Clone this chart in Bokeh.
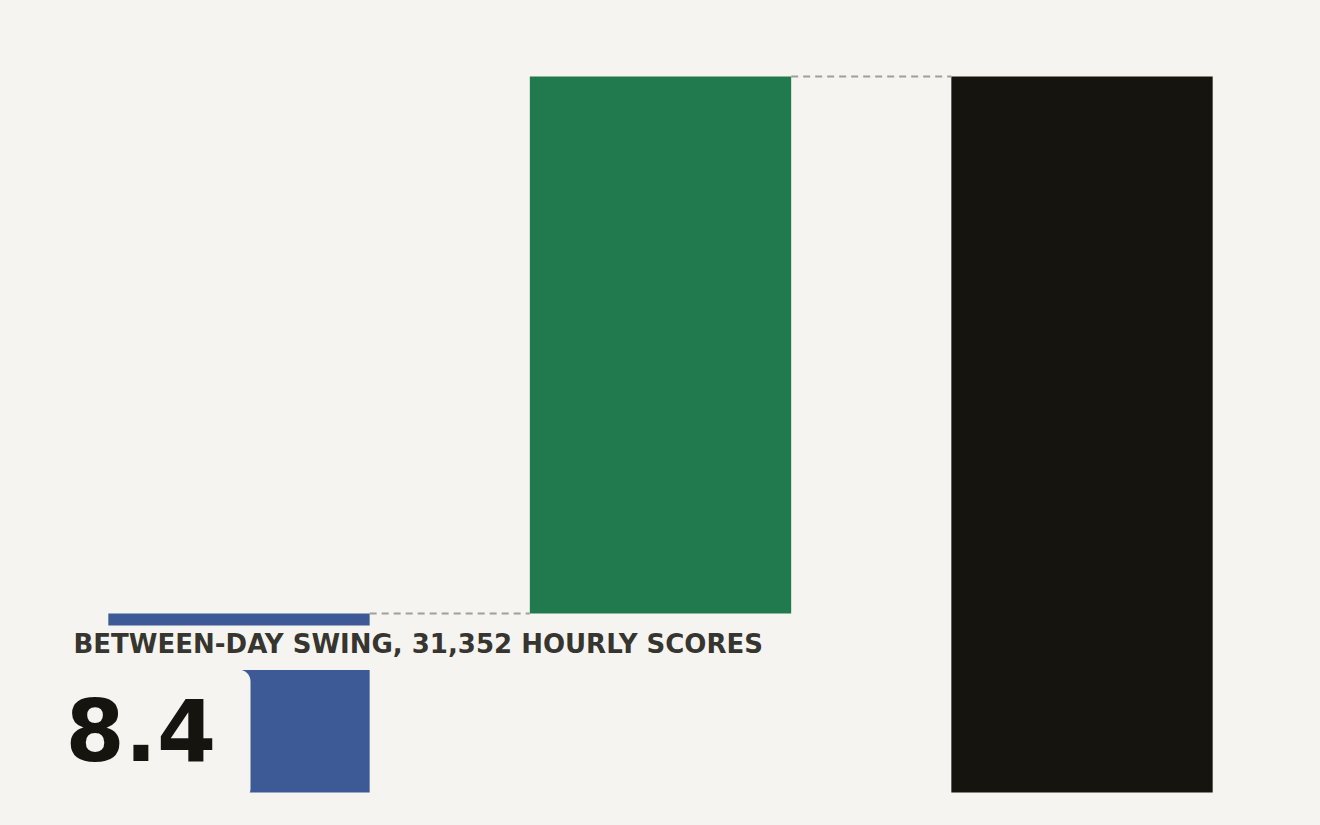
from bokeh.plotting import figure
from bokeh.models import BoxAnnotation, Label, Range1d, ColumnDataSource
from bokeh.embed import file_html
from bokeh.resources import INLINE

# ---- data ----
categories = ["Within-day", "Between-day swing", "Total"]
bar_bottom = [0.0, 8.4, 0.0]
bar_top = [8.4, 33.6, 33.6]
bar_colors = ["#3d5a96", "#217a4d", "#15140f"]
headline_value = "8.4"
subtitle_text = "BETWEEN-DAY SWING, 31,352 HOURLY SCORES"

BG = "#f5f4f0"
W, H = 1320, 825
BAR_W = 0.62

# pixel -> data mapping for annotation placement
X_START, X_END = -0.5658, 2.5658
Y_START, Y_END = -1.5486, 37.1665

def dx(px):
    return X_START + px / W * (X_END - X_START)

def dy(py):
    return Y_START + (H - py) / H * (Y_END - Y_START)

p = figure(width=W, height=H, output_backend="svg", toolbar_location=None,
           x_range=Range1d(X_START, X_END), y_range=Range1d(Y_START, Y_END),
           min_border=0, background_fill_color=BG, border_fill_color=BG,
           outline_line_color=None)
p.axis.visible = False
p.grid.visible = False

xs = list(range(len(categories)))
src = ColumnDataSource(dict(x=xs, top=bar_top, bottom=bar_bottom, color=bar_colors))
p.vbar(x="x", top="top", bottom="bottom", width=BAR_W, color="color", line_color=None, source=src)

# connectors
x0 = [xs[i] + BAR_W / 2 for i in range(len(xs) - 1)]
x1 = [xs[i + 1] - BAR_W / 2 for i in range(len(xs) - 1)]
yc = [bar_top[i] for i in range(len(xs) - 1)]
p.segment(x0=x0, y0=yc, x1=x1, y1=yc, line_color="#a09f98", line_width=2, line_dash="7 5")

# label backgrounds
p.add_layout(BoxAnnotation(left=dx(50), right=dx(780), top=dy(625), bottom=dy(669.6),
                           fill_color=BG, fill_alpha=1, line_alpha=0))
p.add_layout(BoxAnnotation(left=dx(50), right=dx(250), top=dy(669), bottom=dy(800),
                           fill_color=BG, fill_alpha=1, line_alpha=0, border_radius=12))

p.add_layout(Label(x=dx(73), y=dy(643), text=subtitle_text, text_font="DejaVu Sans",
                   text_font_style="bold", text_font_size="26px", text_color="#37352f",
                   text_baseline="alphabetic"))
p.add_layout(Label(x=dx(65), y=dy(729), text=headline_value, text_font="DejaVu Sans",
                   text_font_style="bold", text_font_size="85px", text_color="#15140f",
                   text_baseline="alphabetic"))

html = file_html(p, INLINE)
html = html.replace("</head>", "<style>html, body { background-color: %s; }</style></head>" % BG, 1)
open("out.html", "w").write(html)
